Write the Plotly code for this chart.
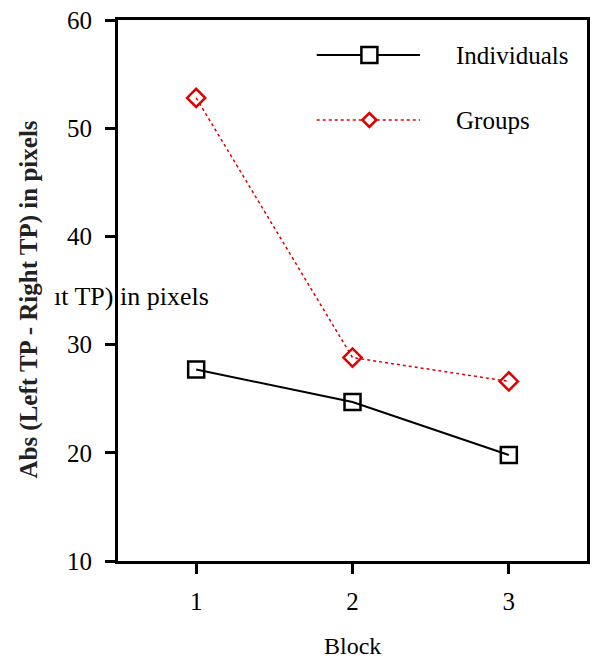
import plotly.graph_objects as go

blocks = [1, 2, 3]
individuals = [27.7, 24.7, 19.8]
groups = [52.8, 28.8, 26.6]
series_names = ["Individuals", "Groups"]
y_ticks = [10, 20, 30, 40, 50, 60]

W, H = 593, 662
L, R, T, B = 118, 3, 20, 101
PW, PH = W - L - R, H - T - B

def px2paper(px, py):
    return (px - L) / PW, (H - B - py) / PH

FONT = "Liberation Serif, Times New Roman, Times, serif"
RED = "#e00000"

fig = go.Figure()
fig.add_trace(go.Scatter(
    x=blocks, y=groups, mode="lines+markers", name=series_names[1],
    line=dict(color=RED, width=1.5, dash="dot"),
    marker=dict(symbol="diamond-open", size=14, color=RED, line=dict(width=2.5, color=RED)),
    showlegend=False, cliponaxis=False))
fig.add_trace(go.Scatter(
    x=blocks, y=individuals, mode="lines+markers", name=series_names[0],
    line=dict(color="black", width=2),
    marker=dict(symbol="square-open", size=16, color="black", line=dict(width=2.5, color="black")),
    showlegend=False, cliponaxis=False))

shapes = []
annotations = []
# manual legend
leg_rows = [(55, "black", "solid", 2, "square"), (120, RED, "dot", 1.5, "diamond")]
for (py, col, dash, lw, sym), name in zip(leg_rows, series_names):
    x0, y0 = px2paper(318, py)
    x1, _ = px2paper(422, py)
    xm, _ = px2paper(371, py)
    shapes.append(dict(type="line", xref="paper", yref="paper", x0=x0, x1=x1, y0=y0, y1=y0,
                       line=dict(color=col, width=lw, dash=dash)))
    if sym == "square":
        shapes.append(dict(type="rect", xref="paper", yref="paper", xsizemode="pixel", ysizemode="pixel",
                           xanchor=xm, yanchor=y0, x0=-8, x1=8, y0=-8, y1=8,
                           line=dict(color=col, width=2.5), fillcolor="white"))
    else:
        shapes.append(dict(type="path", xref="paper", yref="paper", xsizemode="pixel", ysizemode="pixel",
                           xanchor=xm, yanchor=y0, path="M -7 0 L 0 7 L 7 0 L 0 -7 Z",
                           line=dict(color=col, width=2.5), fillcolor="white"))
    tx, _ = px2paper(456, py)
    annotations.append(dict(xref="paper", yref="paper", x=tx, y=y0, text=name, showarrow=False,
                            xanchor="left", yanchor="middle", font=dict(family=FONT, size=25, color="black")))

# y title
yx, yy = px2paper(28, 300)
annotations.append(dict(xref="paper", yref="paper", x=yx, y=yy, text="<b>Abs (Left TP - Right TP) in pixels</b>",
                        textangle=-90, showarrow=False, xanchor="center", yanchor="middle",
                        font=dict(family=FONT, size=25, color="#222")))
# stray overlapping text
sx, sy = px2paper(212, 296)
annotations.append(dict(xref="paper", yref="paper", x=sx, y=sy, text="ıt TP) in pixels",
                        showarrow=False, xanchor="right", yanchor="middle",
                        font=dict(family=FONT, size=26, color="black")))
# x title
bx, by = px2paper(354, 646)
annotations.append(dict(xref="paper", yref="paper", x=bx, y=by, text="Block", showarrow=False,
                        xanchor="center", yanchor="middle", font=dict(family=FONT, size=24, color="black")))

fig.update_layout(
    width=W, height=H, margin=dict(l=L, r=R, t=T, b=B),
    paper_bgcolor="white", plot_bgcolor="white",
    font=dict(family=FONT, size=25, color="black"),
    shapes=shapes, annotations=annotations, showlegend=False,
)
fig.update_xaxes(range=[0.5, 3.5], tickvals=blocks, ticktext=[str(b) for b in blocks],
                 showgrid=False, zeroline=False, showline=True, linecolor="black", linewidth=3,
                 mirror=True, ticks="outside", ticklen=10, tickwidth=2.5, tickcolor="black",
                 ticklabelstandoff=6)
fig.update_yaxes(range=[10, 60], tickvals=y_ticks, showgrid=False, zeroline=False,
                 showline=True, linecolor="black", linewidth=3, mirror=True,
                 ticks="outside", ticklen=10, tickwidth=2.5, tickcolor="black", ticklabelstandoff=8)
fig.write_html("out.html")
